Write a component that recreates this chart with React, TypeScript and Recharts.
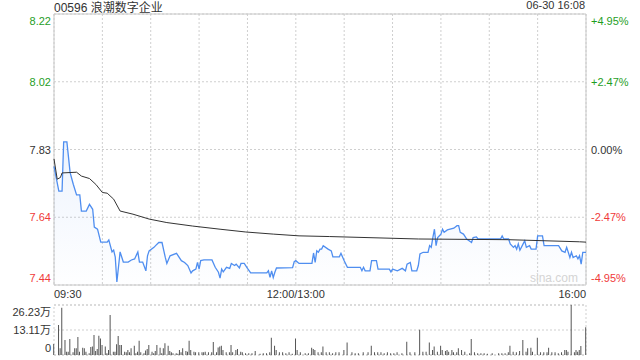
import {
  ComposedChart,
  Area,
  Line,
  Bar,
  XAxis,
  YAxis,
  CartesianGrid,
  ReferenceArea,
} from "recharts";

// minutes since 09:30 (lunch break removed, 0..330)
const priceMinutes = [
  0, 3, 5, 6, 8, 10, 12, 14, 16, 17, 20, 22, 24, 25, 27, 29, 33, 34, 36, 37, 38, 39, 41, 43, 46, 48, 50,
  52, 53, 55, 57, 58, 59, 62, 63, 65, 67, 69, 70, 72, 76, 79, 81, 83, 85, 86, 88, 89, 90, 91, 93, 98,
  100, 102, 103, 104, 105, 107, 109, 110, 112, 113, 115, 116, 118, 120, 122, 132, 133, 134, 135, 136,
  137, 138, 148, 149, 150, 152, 160, 161, 162, 163, 164, 165, 166, 167, 170, 172, 173, 177, 178, 180,
  182, 190, 191, 192, 193, 196, 197, 200, 201, 208, 209, 210, 213, 216, 218, 219, 221, 222, 225, 226,
  227, 229, 232, 233, 234, 235, 236, 237, 238, 240, 241, 242, 244, 248, 250, 251, 252, 254, 256, 259,
  260, 262, 263, 277, 278, 279, 282, 283, 285, 286, 287, 288, 289, 291, 292, 293, 295, 296, 299, 300,
  303, 304, 313, 315, 317, 318, 319, 320, 321, 322, 324, 325, 326, 327, 328, 330,
];
const priceValues = [
  7.782, 7.711, 7.711, 7.852, 7.852, 7.764, 7.73, 7.7, 7.7, 7.654, 7.654, 7.673, 7.659, 7.608, 7.602,
  7.565, 7.565, 7.571, 7.537, 7.542, 7.522, 7.451, 7.537, 7.508, 7.508, 7.514, 7.517, 7.537, 7.508,
  7.508, 7.483, 7.526, 7.54, 7.55, 7.555, 7.564, 7.564, 7.522, 7.504, 7.526, 7.533, 7.512, 7.507, 7.498,
  7.477, 7.483, 7.488, 7.507, 7.488, 7.512, 7.514, 7.514, 7.493, 7.479, 7.462, 7.488, 7.48, 7.493, 7.49,
  7.504, 7.498, 7.502, 7.491, 7.504, 7.504, 7.49, 7.477, 7.477, 7.483, 7.464, 7.483, 7.464, 7.479,
  7.491, 7.492, 7.509, 7.512, 7.504, 7.504, 7.534, 7.507, 7.54, 7.536, 7.545, 7.545, 7.555, 7.545,
  7.54, 7.523, 7.523, 7.533, 7.512, 7.493, 7.493, 7.483, 7.493, 7.483, 7.483, 7.512, 7.512, 7.488,
  7.488, 7.48, 7.488, 7.483, 7.49, 7.483, 7.502, 7.507, 7.483, 7.483, 7.498, 7.531, 7.536, 7.536,
  7.555, 7.55, 7.578, 7.602, 7.555, 7.578, 7.588, 7.602, 7.593, 7.6, 7.605, 7.612, 7.612, 7.593, 7.588,
  7.574, 7.564, 7.578, 7.58, 7.574, 7.574, 7.583, 7.574, 7.574, 7.56, 7.55, 7.555, 7.545, 7.56, 7.542,
  7.56, 7.569, 7.55, 7.555, 7.545, 7.545, 7.583, 7.583, 7.555, 7.555, 7.54, 7.536, 7.55, 7.536, 7.521,
  7.536, 7.521, 7.526, 7.517, 7.526, 7.502, 7.536, 7.536,
];

const avgMinutes = [0, 2, 4, 5, 14, 17, 22, 26, 30, 33, 37, 41, 49, 59, 70, 86, 103, 119, 136, 152, 171, 226, 282, 326, 330];
const avgValues = [
  7.803, 7.745, 7.75, 7.763, 7.765, 7.754, 7.747, 7.73, 7.707, 7.705, 7.688, 7.654, 7.645, 7.631, 7.621,
  7.611, 7.602, 7.594, 7.588, 7.583, 7.581, 7.574, 7.572, 7.566, 7.565,
];

const volMinutes = [
  0, 3, 4, 5, 7, 8, 9, 10, 12, 13, 14, 15, 16, 18, 19, 20, 22, 23, 24, 25, 26, 27, 28, 29, 30, 32, 33, 34,
  35, 37, 38, 39, 40, 41, 42, 44, 45, 46, 47, 48, 50, 51, 52, 53, 54, 56, 57, 58, 59, 61, 62, 63, 64, 66,
  67, 68, 69, 71, 72, 73, 74, 76, 77, 78, 79, 80, 82, 83, 84, 85, 87, 88, 90, 92, 93, 94, 96, 98, 99,
  101, 102, 103, 104, 105, 107, 109, 110, 111, 113, 114, 116, 117, 119, 121, 123, 125, 128, 130, 132,
  134, 135, 137, 138, 140, 142, 144, 146, 148, 150, 151, 153, 156, 158, 160, 161, 162, 164, 166, 167,
  169, 171, 173, 175, 177, 180, 182, 185, 187, 189, 192, 195, 197, 199, 201, 203, 205, 207, 209, 211,
  213, 216, 219, 221, 224, 227, 229, 231, 233, 235, 236, 238, 240, 241, 243, 244, 245, 247, 248, 250,
  251, 253, 255, 258, 259, 261, 263, 265, 267, 269, 272, 276, 278, 280, 282, 283, 285, 287, 289, 291,
  293, 294, 296, 297, 300, 302, 304, 306, 307, 309, 311, 313, 315, 317, 318, 319, 321, 323, 324, 325,
  326, 327, 330,
];
const volValues = [
  58, 157, 35, 248, 79, 17, 17, 84, 14, 35, 35, 94, 17, 38, 35, 17, 9, 42, 44, 105, 21, 31, 101, 87, 52,
  44, 9, 26, 210, 17, 17, 56, 100, 52, 52, 17, 14, 26, 14, 35, 49, 9, 17, 75, 14, 9, 24, 31, 52, 17, 9,
  21, 52, 38, 9, 35, 61, 49, 21, 14, 9, 9, 7, 26, 14, 35, 21, 17, 75, 26, 17, 14, 14, 14, 14, 17, 14,
  14, 68, 14, 40, 44, 49, 26, 14, 14, 52, 14, 26, 31, 17, 14, 9, 9, 9, 21, 7, 9, 9, 14, 91, 49, 26, 14,
  14, 9, 14, 7, 86, 26, 14, 9, 9, 38, 31, 26, 14, 14, 44, 14, 14, 9, 14, 14, 26, 65, 14, 9, 9, 14, 14,
  49, 14, 14, 14, 9, 14, 9, 9, 14, 9, 70, 14, 14, 133, 17, 17, 65, 26, 44, 17, 49, 26, 21, 26, 17, 26,
  14, 14, 35, 26, 17, 9, 84, 14, 9, 9, 9, 7, 9, 9, 9, 9, 14, 49, 17, 14, 21, 79, 17, 35, 38, 17, 91, 14,
  14, 14, 38, 14, 14, 9, 14, 26, 26, 17, 262.3, 14, 26, 17, 26, 47, 145,
].map((v) => v * 1000);

const prevClose = 7.83;
const priceTicks = [7.4424, 7.6362, 7.83, 8.0238, 8.2176];
const priceTickLabels = ["7.44", "7.64", "7.83", "8.02", "8.22"];
const pctTickLabels = ["-4.95%", "-2.47%", "0.00%", "+2.47%", "+4.95%"];
const timeTicks = [0, 30, 60, 90, 120, 150, 180, 210, 240, 270, 300, 330];
const timeLabels: Record<number, string> = { 0: "09:30", 150: "12:00/13:00", 330: "16:00" };
const volTicks = [0, 131150, 262300];
const volTickLabels = ["0", "13.11万", "26.23万"];

const GREEN = "#1f9e1f";
const RED = "#f03a3a";
const DARK = "#333";
const FONT = "'Liberation Sans', Arial, 'Noto Sans CJK SC', sans-serif";

const priceData = priceMinutes.map((m, i) => ({ m, p: priceValues[i] }));
const avgData = avgMinutes.map((m, i) => ({ m, a: avgValues[i] }));
const volData = volMinutes.map((m, i) => ({ m, v: volValues[i] }));

function tickColor(v: number) {
  if (Math.abs(v - prevClose) < 0.001) return DARK;
  return v > prevClose ? GREEN : RED;
}

function edgeShift(index: number, count: number) {
  if (index === 0) return -7;
  if (index === count - 1) return 7;
  return 0;
}

const PriceTick = (props: any) => {
  const { x, y, payload, index } = props;
  const i = priceTicks.indexOf(payload.value);
  return (
    <text x={x} y={y + edgeShift(index, priceTicks.length) + 4} textAnchor="end" fontSize={11} fill={tickColor(payload.value)} fontFamily={FONT}>
      {priceTickLabels[i]}
    </text>
  );
};

const PctTick = (props: any) => {
  const { x, y, payload, index } = props;
  const i = priceTicks.indexOf(payload.value);
  return (
    <text x={x} y={y + edgeShift(index, priceTicks.length) + 4} textAnchor="start" fontSize={11} fill={tickColor(payload.value)} fontFamily={FONT}>
      {pctTickLabels[i]}
    </text>
  );
};

const TimeTick = (props: any) => {
  const { x, y, payload } = props;
  const label = timeLabels[payload.value];
  if (!label) return null;
  const anchor = payload.value === 0 ? "start" : payload.value === 330 ? "end" : "middle";
  return (
    <text x={x} y={y + 13} textAnchor={anchor} fontSize={11} fill={DARK} fontFamily={FONT}>
      {label}
    </text>
  );
};

const VolTick = (props: any) => {
  const { x, y, payload, index } = props;
  const i = volTicks.indexOf(payload.value);
  return (
    <text x={x} y={y + edgeShift(index, volTicks.length) + 4} textAnchor="end" fontSize={11} fill={DARK} fontFamily={FONT}>
      {volTickLabels[i]}
    </text>
  );
};

export default function App() {
  return (
    <div style={{ position: "relative", width: 640, height: 360, background: "#fff", overflow: "hidden", fontFamily: FONT }}>
      <style>{`body{margin:0}`}</style>
      <div style={{ position: "absolute", left: 54, top: -2, fontSize: 12, color: DARK }}>00596 浪潮数字企业</div>
      <div style={{ position: "absolute", right: 55, top: -1, fontSize: 11, color: DARK }}>06-30 16:08</div>

      <div style={{ position: "absolute", left: 0, top: 0 }}>
        <ComposedChart width={640} height={300} margin={{ top: 14, right: 0, bottom: 0, left: 0 }}>
          <defs>
            <linearGradient id="priceFill" x1="0" y1="0" x2="0" y2="1">
              <stop offset="0%" stopColor="#5b93ee" stopOpacity={0.18} />
              <stop offset="100%" stopColor="#5b93ee" stopOpacity={0.01} />
            </linearGradient>
          </defs>
          <CartesianGrid yAxisId="left" stroke="#cfcfcf" strokeDasharray="2 2" />
          <XAxis
            dataKey="m"
            type="number"
            domain={[0, 330]}
            ticks={timeTicks}
            tick={<TimeTick />}
            tickLine={false}
            axisLine={false}
            tickSize={0}
            tickMargin={0}
            height={15}
            interval={0}
          />
          <YAxis
            yAxisId="left"
            domain={[priceTicks[0], priceTicks[4]]}
            ticks={priceTicks}
            tick={<PriceTick />}
            tickLine={false}
            axisLine={false}
            tickSize={0}
            tickMargin={3}
            width={54}
            interval={0}
          />
          <YAxis
            yAxisId="right"
            orientation="right"
            domain={[priceTicks[0], priceTicks[4]]}
            ticks={priceTicks}
            tick={<PctTick />}
            tickLine={false}
            axisLine={false}
            tickSize={0}
            tickMargin={5}
            width={54}
            interval={0}
          />
          <ReferenceArea yAxisId="left" x1={0} x2={330} y1={priceTicks[0]} y2={priceTicks[4]} stroke="#c8c8c8" fill="none" fillOpacity={0} />
          <Area
            yAxisId="left"
            data={priceData}
            dataKey="p"
            type="linear"
            stroke="#4f8ef0"
            strokeWidth={1.3}
            fill="url(#priceFill)"
            baseValue={priceTicks[0]}
            dot={false}
            activeDot={false}
            isAnimationActive={false}
          />
          <Line
            yAxisId="left"
            data={avgData}
            dataKey="a"
            type="linear"
            stroke="#333"
            strokeWidth={1}
            dot={false}
            activeDot={false}
            isAnimationActive={false}
          />
          {/* same series on the percent axis so that axis gets drawn */}
          <Line
            yAxisId="right"
            data={avgData}
            dataKey="a"
            type="linear"
            stroke="none"
            dot={false}
            activeDot={false}
            isAnimationActive={false}
          />
        </ComposedChart>
      </div>

      <div style={{ position: "absolute", right: 62, top: 271, fontSize: 12, color: "#d4d4d4" }}>sina.com</div>

      <div style={{ position: "absolute", left: 0, top: 300 }}>
        <ComposedChart width={640} height={60} data={volData} margin={{ top: 5, right: 54, bottom: 5, left: 0 }}>
          <CartesianGrid stroke="#cfcfcf" strokeDasharray="2 2" vertical={false} />
          <XAxis dataKey="m" type="number" domain={[0, 330]} hide />
          <YAxis
            domain={[0, volTicks[2]]}
            ticks={volTicks}
            tick={<VolTick />}
            tickLine={false}
            axisLine={false}
            tickSize={0}
            tickMargin={3}
            width={54}
            interval={0}
          />
          <ReferenceArea x1={0} x2={330} y1={0} y2={volTicks[2]} stroke="#cfcfcf" strokeDasharray="2 2" fill="none" fillOpacity={0} />
          <Bar dataKey="v" fill="#555" barSize={1} isAnimationActive={false} />
        </ComposedChart>
      </div>
    </div>
  );
}
